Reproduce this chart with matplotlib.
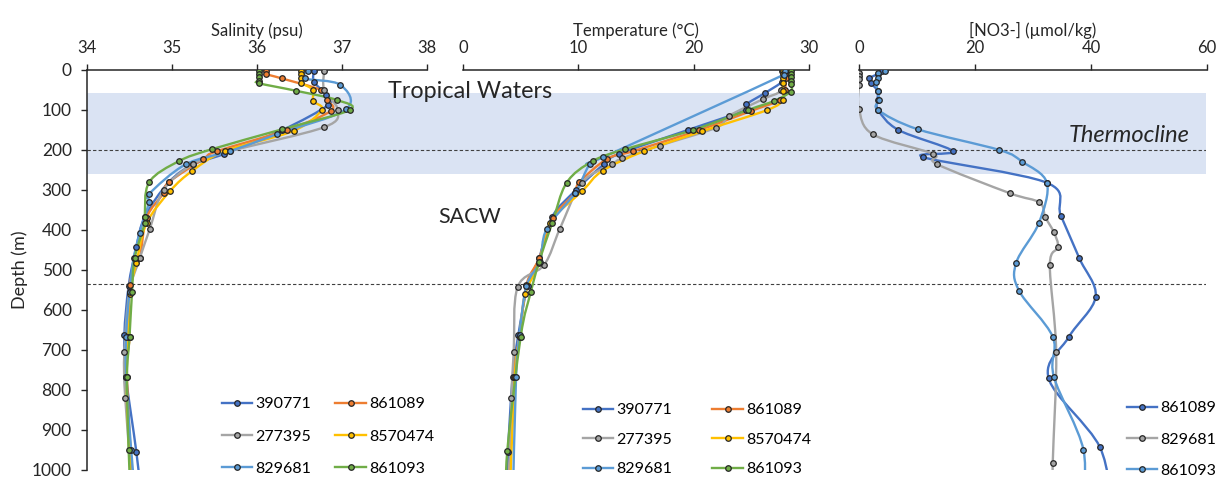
import numpy as np
import matplotlib
matplotlib.use('Agg')
import matplotlib.pyplot as plt
from matplotlib.path import Path
from matplotlib.patches import PathPatch
from matplotlib.lines import Line2D

plt.rcParams['font.family'] = ['Lato', 'DejaVu Sans']

# --- colours per float ---
BLUE = '#4472C4'
ORANGE = '#ED7D31'
GRAY = '#A5A5A5'
GOLD = '#FFC000'
LBLUE = '#5B9BD5'
GREEN = '#70AD47'
EDGE = '#262626'
TXT = '#262626'

# --- salinity profiles (depth m, psu) ---
sal_d_390771 = [2, 29, 62, 87, 150, 210, 236, 281, 367, 443, 540, 662, 768, 954, 1100]
sal_390771 = [36.67, 36.67, 36.81, 36.84, 36.30, 35.61, 35.25, 34.96, 34.68, 34.58, 34.49, 34.44, 34.46, 34.58, 34.66]
sal_d_861089 = [2, 10, 21, 50, 75, 102, 150, 203, 222, 281, 308, 370, 471, 537, 667, 768, 1100]
sal_861089 = [36.11, 36.11, 36.29, 36.75, 36.82, 36.87, 36.35, 35.53, 35.37, 34.96, 34.90, 34.70, 34.62, 34.50, 34.50, 34.47, 34.55]
sal_d_277395 = [2, 50, 100, 143, 203, 235, 300, 397, 471, 555, 704, 821, 1100]
sal_277395 = [36.79, 36.79, 36.95, 36.79, 35.68, 35.25, 34.90, 34.74, 34.62, 34.50, 34.44, 34.45, 34.55]
sal_d_8570474 = [2, 10, 21, 32, 50, 77, 100, 152, 203, 252, 302, 383, 483, 560, 667, 768, 1100]
sal_8570474 = [36.52, 36.52, 36.52, 36.52, 36.66, 36.66, 36.76, 36.43, 35.62, 35.24, 34.98, 34.70, 34.58, 34.50, 34.48, 34.46, 34.53]
sal_d_829681 = [2, 21, 37, 98, 160, 203, 236, 310, 331, 407, 471, 555, 667, 768, 950, 1100]
sal_829681 = [36.60, 36.56, 36.98, 37.05, 36.24, 35.68, 35.16, 34.73, 34.73, 34.62, 34.55, 34.50, 34.46, 34.46, 34.52, 34.58]
sal_d_861093 = [2, 10, 18, 27, 33, 52, 75, 100, 148, 198, 228, 281, 367, 383, 471, 554, 667, 768, 950, 1100]
sal_861093 = [36.02, 36.02, 36.02, 36.02, 36.02, 36.46, 36.94, 37.09, 36.30, 35.47, 35.08, 34.73, 34.68, 34.68, 34.56, 34.53, 34.50, 34.47, 34.49, 34.52]

# --- temperature profiles (depth m, degC) ---
tmp_d_390771 = [2, 12, 29, 58, 86, 100, 150, 210, 236, 300, 367, 470, 540, 662, 768, 954, 1100]
tmp_390771 = [27.8, 27.8, 27.7, 26.15, 24.56, 24.5, 19.5, 13.5, 12.2, 9.8, 7.73, 6.6, 5.6, 4.8, 4.3, 3.9, 3.7]
tmp_d_861089 = [2, 10, 21, 50, 75, 102, 150, 203, 222, 281, 308, 370, 471, 537, 667, 768, 1100]
tmp_861089 = [28.0, 28.0, 28.0, 27.9, 27.5, 25.0, 20.5, 14.75, 12.5, 10.07, 9.7, 7.8, 6.6, 5.5, 4.9, 4.4, 3.9]
tmp_d_277395 = [2, 50, 73, 114, 144, 189, 221, 236, 282, 397, 487, 543, 704, 821, 1100]
tmp_277395 = [27.7, 27.6, 26.0, 23.1, 21.96, 17.05, 13.8, 12.9, 10.3, 8.4, 7.04, 4.73, 4.4, 4.2, 4.0]
tmp_d_8570474 = [2, 10, 21, 32, 53, 75, 100, 153, 203, 252, 302, 383, 483, 560, 667, 768, 1100]
tmp_8570474 = [27.73, 27.73, 27.73, 27.73, 27.73, 27.73, 26.38, 20.75, 15.7, 12.1, 10.36, 7.5, 6.6, 5.4, 4.9, 4.5, 4.0]
tmp_d_829681 = [2, 12, 218, 235, 308, 398, 479, 540, 662, 768, 1100]
tmp_829681 = [27.9, 27.8, 12.15, 11.0, 9.7, 7.24, 6.67, 5.5, 4.9, 4.6, 4.3]
tmp_d_861093 = [2, 10, 18, 27, 35, 54, 77, 100, 150, 198, 228, 282, 383, 479, 554, 667, 953, 1100]
tmp_861093 = [28.46, 28.46, 28.46, 28.46, 28.46, 28.4, 27.0, 24.7, 19.94, 14.05, 11.23, 8.98, 7.73, 6.6, 5.89, 5.0, 3.84, 3.7]

# --- nitrate profiles (depth m, umol/kg) ---
no3_d_861089 = [2, 10, 21, 32, 52, 75, 100, 150, 203, 218, 282, 364, 471, 567, 667, 771, 942, 1100]
no3_861089 = [3.9, 3.2, 1.8, 2.0, 3.2, 3.2, 3.3, 6.8, 16.2, 11.1, 32.4, 34.8, 38.0, 40.8, 36.2, 32.7, 41.5, 43.5]
no3_d_829681 = [7, 15, 23, 37, 97, 161, 210, 235, 308, 331, 367, 406, 443, 487, 706, 983, 1100]
no3_829681 = [0.0, 0.0, 0.0, 0.0, 0.0, 2.4, 12.8, 13.4, 26.0, 31.1, 32.1, 33.6, 34.3, 32.9, 34.0, 33.4, 33.3]
no3_d_861093 = [2, 8, 20, 30, 52, 75, 100, 148, 200, 229, 282, 383, 482, 552, 667, 767, 950, 1100]
no3_861093 = [4.4, 3.2, 3.2, 3.0, 3.2, 3.5, 3.3, 10.1, 24.2, 28.1, 32.4, 31.0, 27.1, 27.6, 33.4, 33.6, 38.7, 38.3]

ids = ['390771', '861089', '277395', '8570474', '829681', '861093']
colors = [BLUE, ORANGE, GRAY, GOLD, LBLUE, GREEN]
sal_profiles = [(sal_d_390771, sal_390771), (sal_d_861089, sal_861089), (sal_d_277395, sal_277395),
                (sal_d_8570474, sal_8570474), (sal_d_829681, sal_829681), (sal_d_861093, sal_861093)]
tmp_profiles = [(tmp_d_390771, tmp_390771), (tmp_d_861089, tmp_861089), (tmp_d_277395, tmp_277395),
                (tmp_d_8570474, tmp_8570474), (tmp_d_829681, tmp_829681), (tmp_d_861093, tmp_861093)]
no3_ids = ['861089', '829681', '861093']
no3_colors = [BLUE, GRAY, LBLUE]
no3_profiles = [(no3_d_861089, no3_861089), (no3_d_829681, no3_829681), (no3_d_861093, no3_861093)]


def smooth_path(x, y):
    # Catmull-Rom style cubic Bezier through the points (Excel "smoothed line")
    pts = np.column_stack([x, y]).astype(float)
    n = len(pts)
    verts = [pts[0]]
    codes = [Path.MOVETO]
    for i in range(n - 1):
        p0 = pts[i - 1] if i > 0 else pts[i]
        p1, p2 = pts[i], pts[i + 1]
        p3 = pts[i + 2] if i + 2 < n else p2
        verts += [p1 + (p2 - p0) / 6, p2 - (p3 - p1) / 6, p2]
        codes += [Path.CURVE4] * 3
    return Path(verts, codes)


def draw_profile(ax, depth, vals, color):
    ax.add_patch(PathPatch(smooth_path(vals, depth), fill=False, edgecolor=color, lw=1.7, zorder=2))
    ax.plot(vals, depth, ls='none', marker='o', ms=4, mfc=color, mec=EDGE, mew=0.9, zorder=3)


def handle(color):
    return Line2D([], [], color=color, lw=1.7, marker='o', ms=4, mfc=color, mec=EDGE, mew=0.9)


W, H = 1218, 479
fig = plt.figure(figsize=(W / 100, H / 100), dpi=100)


def box(x0, x1):
    return [x0 / W, (H - 470) / H, (x1 - x0) / W, 400 / H]


# background: water-mass band and reference depths across all panels
bg = fig.add_axes(box(87, 1206), zorder=0)
bg.set_xlim(0, 1)
bg.set_ylim(1000, 0)
bg.axis('off')
bg.axhspan(58, 260, color='#DAE3F3', lw=0)
for d in (200, 535):
    bg.axhline(d, color='#404040', lw=0.8, ls=(0, (3, 2)))

ax_s = fig.add_axes(box(87, 427), zorder=2)
ax_t = fig.add_axes(box(463, 809), zorder=2)
ax_n = fig.add_axes(box(859, 1207), zorder=2)

panels = [
    (ax_s, (34, 38), [34, 35, 36, 37, 38], 'Salinity (psu)'),
    (ax_t, (0, 30), [0, 10, 20, 30], 'Temperature (°C)'),
    (ax_n, (0, 60), [0, 20, 40, 60], '[NO3-] (µmol/kg)'),
]
for ax, lim, ticks, label in panels:
    ax.patch.set_alpha(0)
    ax.set_xlim(*lim)
    ax.set_ylim(1000, 0)
    ax.set_xticks(ticks)
    ax.xaxis.tick_top()
    ax.xaxis.set_label_position('top')
    ax.set_xlabel(label, fontsize=12, color=TXT, labelpad=3)
    ax.tick_params(axis='x', direction='out', length=4, width=1, pad=6, labelsize=12, colors=TXT)
    for side in ('bottom', 'right', 'left'):
        ax.spines[side].set_visible(False)
    ax.spines['top'].set_linewidth(1.1)
    ax.spines['top'].set_color(TXT)
    ax.set_yticks([])

ax_s.spines['left'].set_visible(True)
ax_s.spines['left'].set_linewidth(1.1)
ax_s.spines['left'].set_color(TXT)
ax_s.set_yticks(range(0, 1001, 100))
ax_s.tick_params(axis='y', direction='out', length=4, width=1, pad=7, labelsize=12.5, colors=TXT)
ax_s.set_ylabel('Depth (m)', fontsize=13, color=TXT, labelpad=3)

for (d, v), c in zip(sal_profiles, colors):
    draw_profile(ax_s, d, v, c)
for (d, v), c in zip(tmp_profiles, colors):
    draw_profile(ax_t, d, v, c)
for (d, v), c in zip(no3_profiles, no3_colors):
    draw_profile(ax_n, d, v, c)

# legends: two columns, filled column first
order = [0, 2, 4, 1, 3, 5]
leg_kw = dict(loc='upper left', frameon=False, fontsize=11.5, borderpad=0, borderaxespad=0,
              handlelength=1.9, handletextpad=0.2, bbox_transform=fig.transFigure)
fig.legend([handle(colors[i]) for i in order], [ids[i] for i in order], ncol=2,
           bbox_to_anchor=(222 / W, 1 - 397 / H), columnspacing=1.5, labelspacing=1.14, **leg_kw)
fig.legend([handle(colors[i]) for i in order], [ids[i] for i in order], ncol=2,
           bbox_to_anchor=(583 / W, 1 - 403 / H), columnspacing=2.5, labelspacing=0.96, **leg_kw)
fig.legend([handle(c) for c in no3_colors], no3_ids, ncol=1,
           bbox_to_anchor=(1127 / W, 1 - 401 / H), labelspacing=1.08, **leg_kw)

fig.text(470 / W, 1 - 92 / H, 'Tropical Waters', fontsize=16.8, color=TXT, ha='center', va='center')
fig.text(470 / W, 1 - 217 / H, 'SACW', fontsize=15.5, color=TXT, ha='center', va='center')
fig.text(1129 / W, 1 - 136 / H, 'Thermocline', fontsize=17, style='italic', color=TXT,
         ha='center', va='center')

fig.savefig('out.png', dpi=100)
